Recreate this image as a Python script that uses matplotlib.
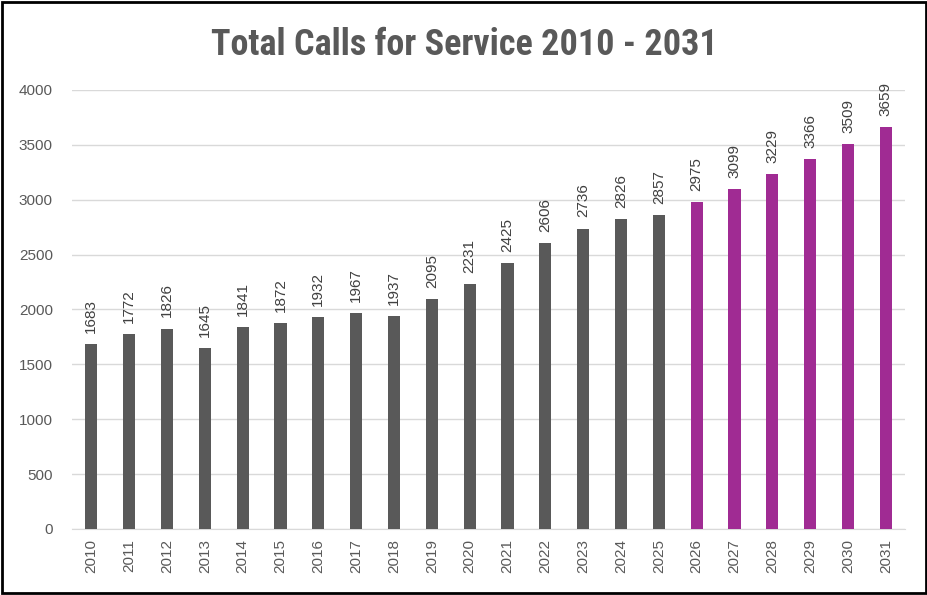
import matplotlib.pyplot as plt
from matplotlib.patches import Rectangle

# datos
years = [str(y) for y in range(2010, 2032)]
calls = [1683, 1772, 1826, 1645, 1841, 1872, 1932, 1967, 1937, 2095, 2231,
         2425, 2606, 2736, 2826, 2857, 2975, 3099, 3229, 3366, 3509, 3659]
n_actual = 16  # 2010-2025 gris, resto en morado

gray = '#595959'
purple = '#A02B93'
colors = [gray] * n_actual + [purple] * (len(years) - n_actual)

plt.rcParams['font.family'] = ['Liberation Sans', 'DejaVu Sans']

fig = plt.figure(figsize=(9.28, 5.95), dpi=100)
ax = fig.add_axes([0.078, 0.111, 0.897, 0.738])

x = range(len(years))
bars = ax.bar(x, calls, width=0.32, color=colors, zorder=3)

for rect, v in zip(bars, calls):
    ax.annotate(str(v), (rect.get_x() + rect.get_width() / 2, v),
                xytext=(0, 8), textcoords='offset points',
                rotation=90, ha='center', va='bottom', fontsize=11, color='#404040')

ax.set_ylim(0, 4000)
ax.set_xlim(-0.5, len(years) - 0.5)
ax.set_yticks(range(0, 4001, 500))
ax.set_xticks(list(x))
ax.set_xticklabels(years, rotation=90)
ax.tick_params(axis='both', length=0, colors=gray, labelsize=11)
ax.tick_params(axis='x', pad=7)
ax.tick_params(axis='y', pad=14)
ax.yaxis.grid(True, color='#d9d9d9', linewidth=1, zorder=0)
for s in ['top', 'right', 'left']:
    ax.spines[s].set_visible(False)
ax.spines['bottom'].set_color('#d9d9d9')

fig.text(0.5, 0.924, 'Total Calls for Service 2010 - 2031', ha='center', va='center',
         fontsize=26, fontweight='bold', color=gray,
         family=['Roboto Condensed', 'Liberation Sans Narrow', 'Roboto', 'DejaVu Sans'])

fig.patches.append(Rectangle((0.002, 0.003), 0.996, 0.994, transform=fig.transFigure,
                             fill=False, edgecolor='black', linewidth=2))

plt.savefig('out.png')
plt.close()
